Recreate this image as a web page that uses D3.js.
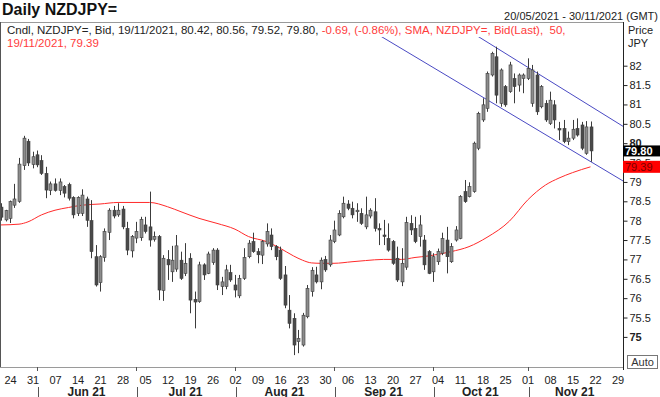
<!DOCTYPE html>
<html>
<head>
<meta charset="utf-8">
<script src="https://cdn.jsdelivr.net/npm/d3@7"></script>
<style>
  html, body { margin: 0; padding: 0; background: #fff; }
  svg { display: block; font-family: "Liberation Sans", Arial, sans-serif; }
</style>
</head>
<body>
<div id="chart"></div>
<script>
// daily candles, one per trading day from 20/05/2021 to 19/11/2021
const opens = [78.35,78.02,78.06,78.40,78.50,79.42,80.05,79.45,79.70,79.55,79.22,78.78,78.95,78.78,78.88,78.93,78.60,78.19,78.19,78.56,
  78.00,77.07,76.40,77.05,77.70,78.27,78.15,78.30,77.80,77.22,77.55,77.56,77.89,77.84,77.52,77.59,76.20,77.00,76.68,76.75,
  76.98,76.64,77.03,75.97,75.91,76.86,76.64,76.92,77.24,76.30,76.30,76.66,76.34,76.06,76.51,77.07,77.46,77.20,77.11,77.40,
  77.63,77.33,77.24,76.60,75.69,75.48,74.88,74.79,75.52,76.17,76.60,76.42,77.00,76.86,77.46,77.63,78.10,78.43,78.32,78.23,
  78.19,77.84,78.12,78.23,77.80,77.63,77.54,77.46,77.03,76.42,76.80,77.93,77.80,77.59,77.50,77.20,76.68,76.94,77.16,77.50,
  76.94,77.50,77.54,78.75,78.62,78.75,79.87,80.60,80.90,81.76,82.23,81.03,81.46,81.33,81.67,81.50,81.67,81.67,81.03,81.76,
  80.94,81.03,80.51,80.99,80.38,80.38,80.04,80.13,80.38,80.47,79.74,80.42];
const highs = [78.45,78.28,78.52,78.95,79.62,80.19,80.11,79.78,79.81,79.69,79.39,79.01,79.09,79.09,78.92,78.98,78.63,78.63,78.81,78.62,
  78.53,77.37,77.11,77.80,78.32,78.38,78.45,78.38,77.97,77.63,77.97,78.10,78.10,78.75,77.72,77.63,77.11,77.24,77.35,77.63,
  77.20,77.42,77.16,76.17,76.94,76.90,77.20,77.29,77.29,76.55,76.86,76.86,76.60,76.60,77.29,77.50,77.69,77.29,77.50,77.93,
  77.80,77.37,77.33,76.83,76.08,75.61,75.18,75.62,76.34,76.80,76.81,77.05,77.09,77.63,78.00,78.27,78.62,78.53,78.49,78.45,
  78.32,78.62,78.32,78.58,77.93,78.02,77.93,77.50,77.33,77.29,78.10,78.14,78.10,78.14,77.63,77.24,77.16,77.28,77.69,77.84,
  77.42,77.86,78.66,79.05,78.99,80.04,80.81,81.16,81.85,82.36,82.49,81.93,81.50,82.10,81.80,81.80,81.80,82.19,82.02,81.85,
  81.50,81.11,81.33,81.11,80.55,80.60,80.30,80.60,80.64,80.55,80.57,80.56];
const lows = [78.00,77.98,77.94,78.33,78.46,79.31,79.41,79.35,79.38,79.18,78.58,78.66,78.75,78.66,78.60,78.52,78.06,78.12,78.12,77.84,
  77.03,76.30,76.17,76.94,77.50,78.06,78.10,77.78,77.11,77.05,77.42,77.48,77.67,77.33,77.46,75.95,75.93,76.47,76.42,76.68,
  76.47,76.57,75.61,75.22,75.88,76.47,76.62,76.86,76.21,76.08,76.23,76.42,76.02,76.00,76.47,77.03,77.17,76.90,76.88,77.33,
  77.24,76.98,76.47,75.74,75.22,74.53,74.58,74.75,75.48,76.04,76.38,76.23,76.68,76.81,77.42,77.60,78.06,78.27,78.06,77.97,
  77.89,77.78,78.06,77.72,77.37,77.37,77.20,76.86,76.42,76.31,76.73,77.63,77.42,77.33,76.73,76.62,76.42,76.86,77.11,76.64,
  76.91,77.46,77.52,78.46,78.60,78.72,79.82,80.55,80.81,81.72,81.03,80.94,80.94,81.30,81.03,81.33,81.29,81.63,80.94,80.73,
  80.90,80.55,80.47,80.38,80.08,80.00,79.95,80.08,80.17,79.82,79.70,79.52];
const closes = [78.09,78.26,78.49,78.56,79.46,80.13,79.49,79.65,79.44,79.22,78.79,78.95,78.78,79.00,78.71,78.58,78.15,78.60,78.66,78.01,
  77.20,76.34,77.07,77.72,78.27,78.12,78.27,77.84,77.24,77.59,77.72,78.03,77.72,77.50,77.59,76.21,77.03,76.86,76.98,77.35,
  76.51,76.90,75.95,75.90,76.86,76.60,77.14,77.24,76.34,76.42,76.73,76.47,76.21,76.51,77.05,77.42,77.20,77.12,77.46,77.72,
  77.33,77.07,76.51,75.82,75.35,74.79,74.96,75.56,76.25,76.72,76.42,76.98,76.73,77.50,77.76,78.19,78.45,78.32,78.15,78.27,
  77.93,78.15,78.27,77.80,77.76,77.59,77.24,76.90,76.47,76.90,77.95,77.76,77.46,77.89,76.86,76.64,77.07,77.20,77.54,77.07,
  77.33,77.76,78.62,78.49,78.88,80.00,80.77,80.99,81.80,82.32,81.24,81.89,80.99,82.02,81.46,81.76,81.76,81.93,81.89,80.81,
  81.46,80.60,81.11,80.60,80.34,80.04,80.13,80.36,80.21,79.87,80.42,79.80];

// 50 day SMA, read at these trading-day positions
const smaIdx = [0,4,6,9,12,15,18,22,26,30,33,37,40,44,48,52,55,59,62,65,67,69,71,74,78,81,85,89,92,95,100,104,108,113,117,121,124,127,131];
const smaVal = [77.89,77.91,77.97,78.15,78.27,78.34,78.40,78.43,78.47,78.47,78.47,78.36,78.23,78.06,77.93,77.78,77.59,77.46,77.29,77.09,
  76.98,76.91,76.90,76.90,76.94,76.97,77.00,77.00,77.05,77.09,77.20,77.33,77.57,77.99,78.53,78.92,79.10,79.24,79.39];

// channel lines: [start index, start price, end index, end price]
const channelLines = [
  [79.8, 83.08, 138.3, 79.02],
  [101.5, 83.08, 138.3, 80.43]
];

const yTicks = [75, 75.5, 76, 76.5, 77, 77.5, 78, 78.5, 79, 79.5, 80, 80.5, 81, 81.5, 82];
const lastClose = 79.80;
const lastSma = 79.39;

const width = 660;
const height = 397;
const plotLeft = 1;
const plotRight = 623;
const plotTop = 22;
const plotBottom = 367;
const nbsp = '\u00a0';

const days = d3.timeDay.range(new Date(2021, 4, 20), new Date(2021, 11, 1))
  .filter(d => d.getDay() !== 0 && d.getDay() !== 6);

const x = d3.scaleLinear().domain([0, 138]).range([1, 622]);
const y = d3.scaleLinear().domain([75, 82]).range([336.9, 65.7]);

const svg = d3.select('#chart').append('svg')
  .attr('width', width)
  .attr('height', height);

svg.append('rect').attr('width', width).attr('height', height).attr('fill', '#fff');

svg.append('clipPath').attr('id', 'plot-clip')
  .append('rect')
  .attr('x', plotLeft).attr('y', plotTop)
  .attr('width', plotRight - plotLeft).attr('height', plotBottom - plotTop);

const plot = svg.append('g').attr('clip-path', 'url(#plot-clip)');

// channel
plot.selectAll('line.channel')
  .data(channelLines)
  .enter().append('line')
  .attr('class', 'channel')
  .attr('x1', d => x(d[0])).attr('y1', d => y(d[1]))
  .attr('x2', d => x(d[2])).attr('y2', d => y(d[3]))
  .attr('stroke', '#4a4ac4')
  .attr('stroke-width', 1);

// sma
const smaLine = d3.line()
  .x((d, i) => x(smaIdx[i]))
  .y(d => y(d))
  .curve(d3.curveMonotoneX);

plot.append('path')
  .datum(smaVal)
  .attr('d', smaLine)
  .attr('fill', 'none')
  .attr('stroke', '#ff2a2a')
  .attr('stroke-width', 1);

// candles
const candles = plot.selectAll('g.candle')
  .data(d3.range(closes.length))
  .enter().append('g')
  .attr('class', 'candle');

candles.append('line')
  .attr('x1', i => Math.round(x(i)) + 0.5).attr('x2', i => Math.round(x(i)) + 0.5)
  .attr('y1', i => y(highs[i])).attr('y2', i => y(lows[i]))
  .attr('stroke', '#3c3c3c')
  .attr('stroke-width', 1);

candles.append('rect')
  .attr('x', i => Math.round(x(i)) - 1)
  .attr('width', 3)
  .attr('y', i => y(Math.max(opens[i], closes[i])))
  .attr('height', i => Math.max(1, y(Math.min(opens[i], closes[i])) - y(Math.max(opens[i], closes[i]))))
  .attr('fill', i => closes[i] >= opens[i] ? '#8c8c8c' : '#4a4a4a')
  .attr('stroke', '#3c3c3c')
  .attr('stroke-width', 0.6);

// frame
svg.append('line')
  .attr('x1', plotLeft).attr('x2', plotRight)
  .attr('y1', plotTop + 0.5).attr('y2', plotTop + 0.5)
  .attr('stroke', '#9a9a9a');
svg.append('line')
  .attr('x1', 0).attr('x2', plotRight)
  .attr('y1', plotBottom + 0.5).attr('y2', plotBottom + 0.5)
  .attr('stroke', '#9a9a9a');
svg.append('line')
  .attr('x1', 0.5).attr('x2', 0.5)
  .attr('y1', plotTop).attr('y2', plotBottom)
  .attr('stroke', '#555');

// legend
const legend = svg.append('g');
legend.append('rect').attr('x', 1).attr('y', 23).attr('width', 560).attr('height', 14).attr('fill', '#fff');
legend.append('rect').attr('x', 1).attr('y', 37).attr('width', 104).attr('height', 13).attr('fill', '#fff');
const line1 = legend.append('text').attr('x', 7).attr('y', 34).attr('font-size', 11.5);
line1.append('tspan').attr('fill', '#222').text('Cndl, NZDJPY=, Bid, 19/11/2021, 80.42, 80.56, 79.52, 79.80, ');
line1.append('tspan').attr('fill', '#ff3b3b').text('-0.69, (-0.86%), SMA, NZDJPY=, Bid(Last),' + nbsp + nbsp + '50,');
legend.append('text').attr('x', 7).attr('y', 47).attr('font-size', 11.5)
  .attr('fill', '#ff3b3b').text('19/11/2021, 79.39');

// titles
svg.append('text').attr('x', 2).attr('y', 15)
  .attr('font-size', 16).attr('font-weight', 'bold').attr('fill', '#111')
  .text('Daily NZDJPY=');
svg.append('text').attr('x', 658).attr('y', 20)
  .attr('font-size', 11).attr('text-anchor', 'end').attr('fill', '#222')
  .text('20/05/2021 - 30/11/2021 (GMT)');
svg.append('text').attr('x', 628).attr('y', 34).attr('font-size', 11).attr('fill', '#222').text('Price');
svg.append('text').attr('x', 628).attr('y', 47).attr('font-size', 11).attr('fill', '#222').text('JPY');

// y axis
const yAxis = svg.append('g')
  .attr('transform', `translate(${plotRight + 0.5},0)`)
  .call(d3.axisRight(y).tickValues(yTicks).tickSize(4).tickPadding(2).tickFormat(d3.format('~g')));
yAxis.select('.domain').attr('d', `M0,${plotTop}V${plotBottom + 3}`).attr('stroke', '#222');
yAxis.selectAll('.tick line').attr('stroke', '#222');
yAxis.selectAll('.tick text')
  .attr('font-size', 11)
  .attr('font-family', '"Liberation Sans", Arial, sans-serif')
  .attr('fill', '#222')
  .attr('font-weight', d => d % 5 === 0 ? 'bold' : 'normal');

// last value boxes
const closeBoxY = y(lastClose) - 5.5;
svg.append('rect').attr('x', plotRight).attr('y', closeBoxY).attr('width', 37).attr('height', 11).attr('fill', '#000');
svg.append('text').attr('x', plotRight + 2).attr('y', closeBoxY + 9.5)
  .attr('font-size', 11).attr('font-weight', 'bold').attr('fill', '#fff').text(d3.format('.2f')(lastClose));
const smaBoxY = Math.max(y(lastSma) - 6, closeBoxY + 11);
svg.append('rect').attr('x', plotRight).attr('y', smaBoxY).attr('width', 37).attr('height', 12).attr('fill', '#ff0000');
svg.append('text').attr('x', plotRight + 2).attr('y', smaBoxY + 10)
  .attr('font-size', 11).attr('fill', '#7a0000').text(d3.format('.2f')(lastSma));

// auto box
svg.append('rect').attr('x', 627.5).attr('y', 355.5).attr('width', 30).attr('height', 13)
  .attr('fill', '#fff').attr('stroke', '#777');
svg.append('text').attr('x', 642.5).attr('y', 366).attr('font-size', 11)
  .attr('text-anchor', 'middle').attr('fill', '#333').text('Auto');

// x axis: weeks and months
const mondays = d3.range(days.length).filter(i => days[i].getDay() === 1);
const monthStarts = d3.range(1, days.length).filter(i => days[i].getMonth() !== days[i - 1].getMonth());

const xAxis = svg.append('g')
  .attr('transform', `translate(0,${plotBottom})`)
  .call(d3.axisBottom(x).tickValues(mondays).tickSize(0).tickPadding(9)
    .tickFormat(i => d3.timeFormat('%d')(days[i])));
xAxis.select('.domain').remove();
xAxis.selectAll('.tick text')
  .attr('font-size', 11)
  .attr('font-family', '"Liberation Sans", Arial, sans-serif')
  .attr('fill', '#222');

svg.selectAll('line.month-tick')
  .data(monthStarts)
  .enter().append('line')
  .attr('class', 'month-tick')
  .attr('x1', i => Math.round(x(i)) + 0.5).attr('x2', i => Math.round(x(i)) + 0.5)
  .attr('y1', plotBottom).attr('y2', plotBottom + 4)
  .attr('stroke', '#555');

svg.selectAll('line.month-sep')
  .data(monthStarts)
  .enter().append('line')
  .attr('class', 'month-sep')
  .attr('x1', i => Math.round(x(i)) + 1.5).attr('x2', i => Math.round(x(i)) + 1.5)
  .attr('y1', 387).attr('y2', 397)
  .attr('stroke', '#555');

const monthBounds = monthStarts.concat([days.length - 1]);
svg.selectAll('text.month')
  .data(monthStarts)
  .enter().append('text')
  .attr('class', 'month')
  .attr('x', (d, k) => (x(d) + x(monthBounds[k + 1])) / 2)
  .attr('y', 395.5)
  .attr('text-anchor', 'middle')
  .attr('font-size', 12)
  .attr('font-weight', 'bold')
  .attr('fill', '#222')
  .text(i => d3.timeFormat('%b %y')(days[i]));
</script>
</body>
</html>
